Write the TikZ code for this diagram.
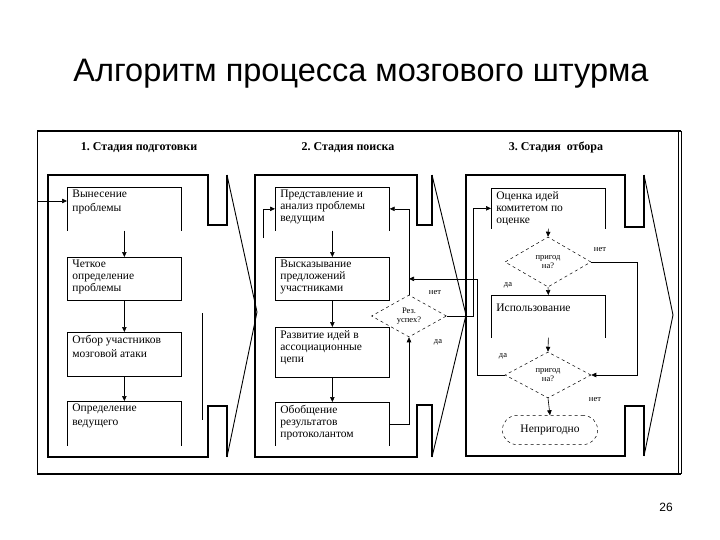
\documentclass[tikz,border=0pt]{standalone}
\usepackage{fontspec}
\setmainfont{Liberation Serif}
\newfontfamily\titlefont{Liberation Sans}
\usetikzlibrary{arrows.meta,positioning,shapes.geometric}
\frenchspacing

\newcommand{\boxfont}{\fontsize{11.5}{12}\selectfont}
\newcommand{\btxt}[2]{\parbox[t][#1][t]{104pt}{\raggedright #2}}

\tikzset{
  stbox/.style={draw, line width=0.7pt, inner xsep=5pt, inner ysep=3pt, anchor=north west, font=\boxfont},
  openbox/.style={stbox, draw=none},
  dec/.style={diamond, draw, dashed, line width=0.5pt, inner sep=0pt, align=center, font=\fontsize{8.5}{9}\selectfont},
  term/.style={draw, dashed, line width=0.5pt, rounded corners=14pt, minimum width=95pt, minimum height=29pt, font=\boxfont},
  lbl/.style={font=\fontsize{8.5}{9}\selectfont},
  head/.style={anchor=base, font=\bfseries\fontsize{12}{13}\selectfont},
  arr/.style={line width=0.6pt, -{Triangle[length=5pt,width=4.5pt]}},
  stagepanel/.style={line width=2pt},
  chevron/.style={line width=0.9pt}
}

\begin{document}
\begin{tikzpicture}[x=1pt, y=-1pt]
    \useasboundingbox (0,0) rectangle (720,540);
    \node[font=\titlefont\fontsize{32.5}{34}\selectfont] (title) at (361,74) {Алгоритм процесса мозгового штурма};
    \node[font=\titlefont\fontsize{12}{14}\selectfont] (pagenum) at (666,507) {26};
    % outer frame
    \draw[line width=0.5pt] (37,131) -- (37,474);
    \draw[line width=1.5pt] (37,131) -- (681,131);
    \draw[line width=1.5pt] (37,474) -- (681,474);
    \draw[line width=0.5pt] (678,131) -- (678,474);
    \draw[line width=0.5pt] (681,131) -- (681,474);
    % stage panels
    \draw[stagepanel] (227,175) -- (227,225) -- (208,225) -- (208,175) -- (48,175) -- (48,457) -- (208,457) -- (208,406) -- (227,406) -- (227,457);
    \draw[chevron] (227,175) -- (257,312) -- (227,457);
    \draw[stagepanel] (432,175) -- (432,225) -- (417,225) -- (417,175) -- (255,175) -- (255,457) -- (417,457) -- (417,405) -- (432,405) -- (432,457);
    \draw[chevron] (432,175) -- (466,315) -- (432,457);
    \draw[stagepanel] (644,175) -- (644,227) -- (625,227) -- (625,175) -- (466,175) -- (466,456) -- (625,456) -- (625,406) -- (644,406) -- (644,456);
    \draw[chevron] (644,175) -- (673,315) -- (644,456);
    \node[head] (h1) at (139,151) {1. Стадия подготовки};
    \node[head] (h2) at (348,151) {2. Стадия поиска};
    \node[head] (h3) at (556,151) {3. Стадия\ \ отбора};
    % stage 1
    \node[openbox] (vyn) at (67,187) {\btxt{37pt}{Вынесение\\[2pt]проблемы}};
    \draw[line width=0.7pt] (vyn.south west) -- (vyn.north west) -- (vyn.north east) -- (vyn.south east);
    \node[stbox] (chet) at (67,257) {\btxt{37pt}{Четкое\\определение\\проблемы}};
    \node[stbox] (otb) at (67,332) {\btxt{38pt}{Отбор участников\\[2pt]мозговой атаки}};
    \node[openbox] (opr) at (67,401) {\btxt{38pt}{Определение\\[2pt]ведущего}};
    \draw[line width=0.7pt] (opr.south west) -- (opr.north west) -- (opr.north east) -- (opr.south east);
    \coordinate (in) at (37,201);
    \draw[arr] (in) -- (in -| vyn.west);
    \draw[arr] (vyn.south) -- (chet.north);
    \draw[arr] (chet.south) -- (otb.north);
    \draw[arr] (otb.south) -- (opr.north);
    \draw[line width=0.5pt] (202,313) -- (202,420);
    % stage 2
    \node[openbox] (pred) at (275,187) {\btxt{37pt}{Представление и\\анализ проблемы\\ведущим}};
    \draw[line width=0.7pt] (pred.south west) -- (pred.north west) -- (pred.north east) -- (pred.south east);
    \node[stbox] (vysk) at (275,257) {\btxt{37pt}{Высказывание\\предложений\\участниками}};
    \node[stbox] (razv) at (275,327) {\btxt{44pt}{Развитие идей в\\ассоциационные\\цепи}};
    \node[openbox] (obob) at (275,402) {\btxt{37pt}{Обобщение\\результатов\\протоколантом}};
    \draw[line width=0.7pt] (obob.south west) -- (obob.north west) -- (obob.north east) -- (obob.south east);
    \draw[arr] (pred.south) -- (vysk.north);
    \draw[arr] (vysk.south) -- (razv.north);
    \draw[arr] (razv.south) -- (obob.north);
    \node[dec, minimum width=75pt, minimum height=42pt] (rez) at (409,316) {Рез.\\успех?};
    \node[lbl] (rezno) at (435,293) {нет};
    \node[lbl] (rezyes) at (438,342) {да};
    \draw[arr] (obob.east) -| (rez.south);
    \draw[arr] (rez.north) |- (pred.east);
    \coordinate (pin) at (263,238);
    \draw[arr] (pin) |- (pred.west);
    \coordinate (join) at (rez.north |- vysk.east);
    % stage 3
    \node[openbox] (ocen) at (491,188) {\btxt{34pt}{Оценка идей\\комитетом по\\оценке}};
    \draw[line width=0.7pt] (ocen.south west) -- (ocen.north west) -- (ocen.north east) -- (ocen.south east);
    \node[dec, minimum width=86pt, minimum height=50pt] (prig1) at (548,262) {пригод\\на?};
    \node[openbox] (isp) at (491,295) {\btxt{36pt}{\vspace*{6pt}Использование}};
    \draw[line width=0.7pt] (isp.south west) -- (isp.north west) -- (isp.north east) -- (isp.south east);
    \node[dec, minimum width=86pt, minimum height=46pt] (prig2) at (548,375) {пригод\\на?};
    \node[term] (neprig) at (550,430) {Непригодно};
    \node[lbl] (p1no) at (600,250) {нет};
    \node[lbl] (p1yes) at (508,285) {да};
    \node[lbl] (p2yes) at (503,356) {да};
    \node[lbl] (p2no) at (595,400) {нет};
    \draw[arr] (ocen.south) -- (prig1.north);
    \draw[arr] (prig1.south) -- (isp.north);
    \draw[arr] (isp.south) -- (prig2.north);
    \draw[arr] (prig2.south) -- (neprig.north);
    \draw[arr] (prig1.east) -- ++(46,0) |- (prig2.east);
    \draw[arr] (rez.east) -- ++(27,0) |- (ocen.west);
    \draw[arr] (prig2.west) -- ++(-27,0) |- (join);
\end{tikzpicture}
\end{document}
